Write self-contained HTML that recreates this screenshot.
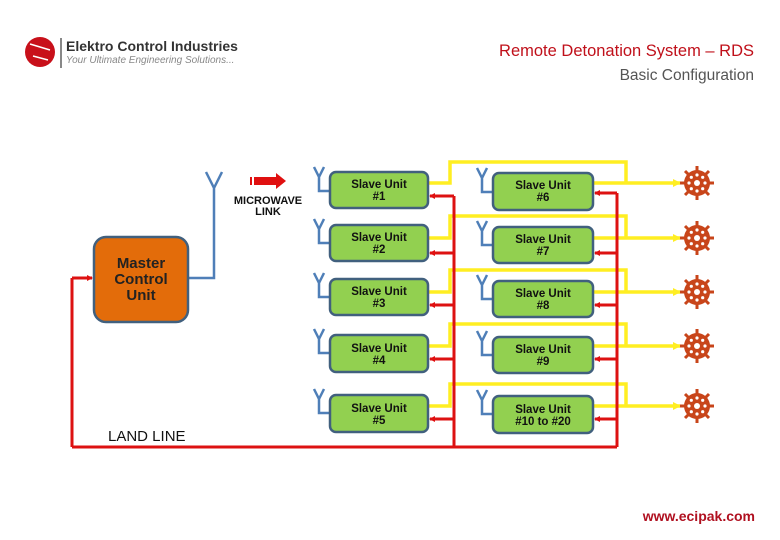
<!DOCTYPE html>
<html><head><meta charset="utf-8"><style>
body{margin:0;background:#fff;}
svg{display:block}
</style></head><body>
<svg width="780" height="540" viewBox="0 0 780 540" xmlns="http://www.w3.org/2000/svg" font-family="Liberation Sans, sans-serif">
<defs>
<marker id="ar" markerWidth="6" markerHeight="6" refX="5" refY="3" orient="auto" markerUnits="userSpaceOnUse"><path d="M0,0 L6,3 L0,6 z" fill="#e01010"/></marker>
<marker id="ay" markerWidth="8" markerHeight="8" refX="7" refY="4" orient="auto" markerUnits="userSpaceOnUse"><path d="M0,0 L8,4 L0,8 z" fill="#ffee22"/></marker>
<g id="wheel">
<g stroke="#c8451a" stroke-width="3">
<line x1="0" y1="-17" x2="0" y2="17"/><line x1="-17" y1="0" x2="17" y2="0"/>
<line x1="-12" y1="-12" x2="12" y2="12"/><line x1="-12" y1="12" x2="12" y2="-12"/>
</g>
<circle r="13" fill="#c8451a"/>
<circle r="3" fill="#fff"/>
<g fill="#fff">
<circle cx="0" cy="-8" r="1.6"/><circle cx="0" cy="8" r="1.6"/><circle cx="-8" cy="0" r="1.6"/><circle cx="8" cy="0" r="1.6"/>
<circle cx="-5.7" cy="-5.7" r="1.6"/><circle cx="5.7" cy="5.7" r="1.6"/><circle cx="-5.7" cy="5.7" r="1.6"/><circle cx="5.7" cy="-5.7" r="1.6"/>
</g></g>
<g id="ant" stroke="#4f7fb8" stroke-width="2.5" fill="none"><path d="M-5,-12 L0,-2 L5,-12 M0,-2 L0,12 L11,12"/></g>
</defs>

<!-- logo -->
<circle cx="40" cy="52" r="15" fill="#c8101a"/>
<path d="M30,44 L50,50 M33,56 L48,60" stroke="#fff" stroke-width="1.5"/>
<line x1="61" y1="38" x2="61" y2="68" stroke="#888" stroke-width="2"/>
<text x="66" y="51" font-size="14" font-weight="bold" fill="#333">Elektro Control Industries</text>
<text x="66" y="63" font-size="10" font-style="italic" fill="#888">Your Ultimate Engineering Solutions...</text>

<text x="754" y="56" font-size="16.5" fill="#c0101a" text-anchor="end">Remote Detonation System – RDS</text>
<text x="754" y="80" font-size="15.5" fill="#555" text-anchor="end">Basic Configuration</text>
<text x="755" y="521" font-size="14" font-weight="bold" fill="#b01020" text-anchor="end">www.ecipak.com</text>

<!-- yellow lines -->
<g stroke="#ffee22" stroke-width="3.5" fill="none">
<path d="M428,183 H450 V162 H626 V183"/><path d="M593,183 H680" marker-end="url(#ay)"/>
<path d="M428,238 H450 V216 H626 V238"/><path d="M593,238 H680" marker-end="url(#ay)"/>
<path d="M428,292 H450 V270 H626 V292"/><path d="M593,292 H680" marker-end="url(#ay)"/>
<path d="M428,346 H450 V324 H626 V346"/><path d="M593,346 H680" marker-end="url(#ay)"/>
<path d="M428,406 H450 V384 H626 V406"/><path d="M593,406 H680" marker-end="url(#ay)"/>
</g>

<!-- red lines -->
<g stroke="#dd1111" stroke-width="3" fill="none">
<path d="M454,196 V447 M617,193 V447 M72,447 H617 M72,447 V278"/>
<path d="M72,278 H92" marker-end="url(#ar)"/>
<path d="M454,196 H430" marker-end="url(#ar)"/>
<path d="M454,253 H430" marker-end="url(#ar)"/>
<path d="M454,305 H430" marker-end="url(#ar)"/>
<path d="M454,359 H430" marker-end="url(#ar)"/>
<path d="M454,419 H430" marker-end="url(#ar)"/>
<path d="M617,193 H595" marker-end="url(#ar)"/>
<path d="M617,253 H595" marker-end="url(#ar)"/>
<path d="M617,305 H595" marker-end="url(#ar)"/>
<path d="M617,359 H595" marker-end="url(#ar)"/>
<path d="M617,419 H595" marker-end="url(#ar)"/>
</g>

<!-- master -->
<path d="M188,278 H214 V186 M206,172 L214,188 L222,172" stroke="#4f7fb8" stroke-width="2.5" fill="none"/>
<rect x="94" y="237" width="94" height="85" rx="12" fill="#e36c0a" stroke="#41607e" stroke-width="2.5"/>
<text font-size="15" font-weight="bold" fill="#222" text-anchor="middle"><tspan x="141" y="268">Master</tspan><tspan x="141" y="284">Control</tspan><tspan x="141" y="300">Unit</tspan></text>

<!-- microwave -->
<rect x="250" y="177" width="2" height="8" fill="#e01010"/>
<path d="M254,177 H276 V173 L286,181 L276,189 V185 H254 z" fill="#e01010"/>
<text font-size="11" fill="#111" text-anchor="middle" font-weight="bold"><tspan x="268" y="204">MICROWAVE</tspan><tspan x="268" y="215">LINK</tspan></text>
<text x="108" y="441" font-size="15" fill="#111">LAND LINE</text>

<!-- antennas -->
<use href="#ant" x="319" y="179"/><use href="#ant" x="319" y="231"/><use href="#ant" x="319" y="285"/><use href="#ant" x="319" y="341"/><use href="#ant" x="319" y="401"/>
<use href="#ant" x="482" y="180"/><use href="#ant" x="482" y="233"/><use href="#ant" x="482" y="287"/><use href="#ant" x="482" y="343"/><use href="#ant" x="482" y="402"/>

<!-- slave boxes -->
<g fill="#92d050" stroke="#41607e" stroke-width="2.5">
<rect x="330" y="172" width="98" height="36" rx="6"/><rect x="330" y="225" width="98" height="36" rx="6"/><rect x="330" y="279" width="98" height="36" rx="6"/><rect x="330" y="335" width="98" height="37" rx="6"/><rect x="330" y="395" width="98" height="37" rx="6"/>
<rect x="493" y="173" width="100" height="37" rx="6"/><rect x="493" y="227" width="100" height="36" rx="6"/><rect x="493" y="281" width="100" height="36" rx="6"/><rect x="493" y="337" width="100" height="36" rx="6"/><rect x="493" y="396" width="100" height="37" rx="6"/>
</g>
<g font-size="11.5" font-weight="bold" fill="#111" text-anchor="middle">
<text><tspan x="379" y="188">Slave Unit</tspan><tspan x="379" y="200">#1</tspan></text>
<text><tspan x="379" y="241">Slave Unit</tspan><tspan x="379" y="253">#2</tspan></text>
<text><tspan x="379" y="295">Slave Unit</tspan><tspan x="379" y="307">#3</tspan></text>
<text><tspan x="379" y="352">Slave Unit</tspan><tspan x="379" y="364">#4</tspan></text>
<text><tspan x="379" y="412">Slave Unit</tspan><tspan x="379" y="424">#5</tspan></text>
<text><tspan x="543" y="189">Slave Unit</tspan><tspan x="543" y="201">#6</tspan></text>
<text><tspan x="543" y="243">Slave Unit</tspan><tspan x="543" y="255">#7</tspan></text>
<text><tspan x="543" y="297">Slave Unit</tspan><tspan x="543" y="309">#8</tspan></text>
<text><tspan x="543" y="353">Slave Unit</tspan><tspan x="543" y="365">#9</tspan></text>
<text><tspan x="543" y="413">Slave Unit</tspan><tspan x="543" y="425">#10 to #20</tspan></text>
</g>

<use href="#wheel" x="697" y="183"/><use href="#wheel" x="697" y="238"/><use href="#wheel" x="697" y="292"/><use href="#wheel" x="697" y="346"/><use href="#wheel" x="697" y="406"/>
</svg>
</body></html>
